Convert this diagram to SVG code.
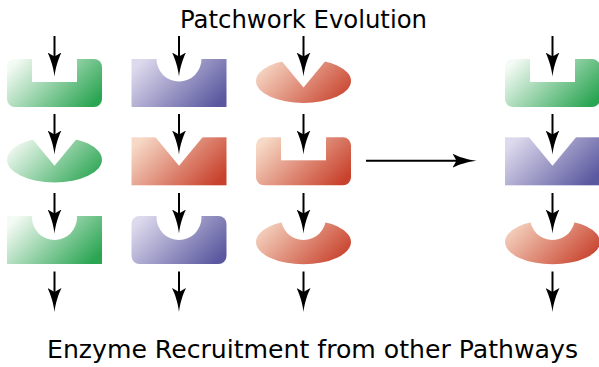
<svg xmlns="http://www.w3.org/2000/svg" width="599" height="367" viewBox="0 0 599 367">
  <style>
    .label { font-family: "DejaVu Sans", "Liberation Sans", sans-serif; font-size: 24px; fill: #000; }
    .flow { stroke: #000; stroke-width: 2; fill: none; marker-end: url(#head); }
    .g { fill: url(#gGreen); }
    .p { fill: url(#gPurple); }
    .o { fill: url(#gOrange); }
  </style>
  <defs>
    <!-- 45-degree shading in each node's local frame (box x -47.5..47.5, y 0..48) -->
    <linearGradient id="gGreen" gradientUnits="userSpaceOnUse" x1="-47.5" y1="0" x2="24" y2="71.5">
      <stop offset="0.08" stop-color="#f4faf4"/>
      <stop offset="0.92" stop-color="#2aa552"/>
    </linearGradient>
    <linearGradient id="gPurple" gradientUnits="userSpaceOnUse" x1="-47.5" y1="0" x2="24" y2="71.5">
      <stop offset="0.08" stop-color="#dedaed"/>
      <stop offset="0.92" stop-color="#5a589f"/>
    </linearGradient>
    <linearGradient id="gOrange" gradientUnits="userSpaceOnUse" x1="-47.5" y1="0" x2="24" y2="71.5">
      <stop offset="0.08" stop-color="#f6d9c6"/>
      <stop offset="0.92" stop-color="#c8412c"/>
    </linearGradient>

    <!-- binding-site cut-outs, in each node's local frame (centre x = 0, top y = 0) -->
    <mask id="cutSquare" maskUnits="userSpaceOnUse" maskContentUnits="userSpaceOnUse" x="-60" y="-10" width="120" height="80">
      <rect x="-60" y="-10" width="120" height="80" fill="#fff"/>
      <rect x="-22.5" y="-5" width="45" height="28" fill="#000"/>
    </mask>
    <mask id="cutRound" maskUnits="userSpaceOnUse" maskContentUnits="userSpaceOnUse" x="-60" y="-10" width="120" height="80">
      <rect x="-60" y="-10" width="120" height="80" fill="#fff"/>
      <circle cx="0" cy="0" r="22.5" fill="#000"/>
    </mask>
    <mask id="cutRoundLow" maskUnits="userSpaceOnUse" maskContentUnits="userSpaceOnUse" x="-60" y="-10" width="120" height="80">
      <rect x="-60" y="-10" width="120" height="80" fill="#fff"/>
      <circle cx="0" cy="1.5" r="22.5" fill="#000"/>
    </mask>
    <mask id="cutVee" maskUnits="userSpaceOnUse" maskContentUnits="userSpaceOnUse" x="-60" y="-10" width="120" height="80">
      <rect x="-60" y="-10" width="120" height="80" fill="#fff"/>
      <polygon points="0,28.5 -26,-3 26,-3" fill="#000"/>
    </mask>

    <marker id="head" viewBox="0 0 24 14" refX="6" refY="7" markerWidth="24" markerHeight="14" markerUnits="userSpaceOnUse" orient="auto">
      <path d="M24,7 C15,6 6,3 0,0 L4,7 L0,14 C6,11 15,8 24,7 Z" fill="#000"/>
    </marker>
  </defs>

  <text class="label" x="303.5" y="28.3" text-anchor="middle" textLength="247" lengthAdjust="spacingAndGlyphs">Patchwork Evolution</text>

  <!-- row 1 -->
  <g id="r1c1" transform="translate(54.5,59)">
    <rect class="g" x="-47.5" y="0" width="95" height="48" rx="8" mask="url(#cutSquare)"/>
  </g>
  <g id="r1c2" transform="translate(179,59)">
    <rect class="p" x="-47.5" y="0" width="95" height="48" mask="url(#cutRound)"/>
  </g>
  <g id="r1c3" transform="translate(303.5,59)">
    <ellipse class="o" cx="0" cy="22" rx="47.5" ry="22" mask="url(#cutVee)"/>
  </g>
  <g id="r1c4" transform="translate(552.5,59)">
    <rect class="g" x="-47.5" y="0" width="95" height="48" rx="8" mask="url(#cutSquare)"/>
  </g>

  <!-- row 2 -->
  <g id="r2c1" transform="translate(54.5,137.3)">
    <ellipse class="g" cx="0" cy="22.4" rx="47.5" ry="22.8" mask="url(#cutVee)"/>
  </g>
  <g id="r2c2" transform="translate(179,137.3)">
    <rect class="o" x="-47.5" y="0" width="95" height="48" mask="url(#cutVee)"/>
  </g>
  <g id="r2c3" transform="translate(303.5,137.3)">
    <rect class="o" x="-47.5" y="0" width="95" height="48" rx="8" mask="url(#cutSquare)"/>
  </g>
  <g id="r2c4" transform="translate(552.5,137.3)">
    <rect class="p" x="-47.5" y="0" width="95" height="48" mask="url(#cutVee)"/>
  </g>

  <!-- row 3 -->
  <g id="r3c1" transform="translate(54.5,216)">
    <rect class="g" x="-47.5" y="0" width="95" height="48" mask="url(#cutRoundLow)"/>
  </g>
  <g id="r3c2" transform="translate(179,216)">
    <rect class="p" x="-47.5" y="0" width="95" height="48" rx="8" mask="url(#cutRoundLow)"/>
  </g>
  <g id="r3c3" transform="translate(303.5,216)">
    <ellipse class="o" cx="0" cy="26" rx="47.5" ry="22.3" mask="url(#cutRoundLow)"/>
  </g>
  <g id="r3c4" transform="translate(552.5,216)">
    <ellipse class="o" cx="0" cy="26" rx="47.5" ry="22.3" mask="url(#cutRoundLow)"/>
  </g>

  <!-- connectors: each line stops 18px short of its arrow tip -->
  <g id="connectors">
    <line class="flow" x1="54.5" y1="36" x2="54.5" y2="58.5"/>
    <line class="flow" x1="54.5" y1="114" x2="54.5" y2="136.5"/>
    <line class="flow" x1="54.5" y1="193" x2="54.5" y2="215.5"/>
    <line class="flow" x1="54.5" y1="271.5" x2="54.5" y2="294"/>

    <line class="flow" x1="179" y1="36" x2="179" y2="58.5"/>
    <line class="flow" x1="179" y1="114" x2="179" y2="136.5"/>
    <line class="flow" x1="179" y1="193" x2="179" y2="215.5"/>
    <line class="flow" x1="179" y1="271.5" x2="179" y2="294"/>

    <line class="flow" x1="303.5" y1="36" x2="303.5" y2="58.5"/>
    <line class="flow" x1="303.5" y1="114" x2="303.5" y2="136.5"/>
    <line class="flow" x1="303.5" y1="193" x2="303.5" y2="215.5"/>
    <line class="flow" x1="303.5" y1="271.5" x2="303.5" y2="294"/>

    <line class="flow" x1="552.5" y1="36" x2="552.5" y2="58.5"/>
    <line class="flow" x1="552.5" y1="114" x2="552.5" y2="136.5"/>
    <line class="flow" x1="552.5" y1="193" x2="552.5" y2="215.5"/>
    <line class="flow" x1="552.5" y1="271.5" x2="552.5" y2="294"/>

    <line class="flow" x1="366" y1="160.7" x2="458.5" y2="160.7"/>
  </g>

  <text class="label" x="312.5" y="358.3" text-anchor="middle" textLength="531" lengthAdjust="spacingAndGlyphs">Enzyme Recruitment from other Pathways</text>
</svg>
